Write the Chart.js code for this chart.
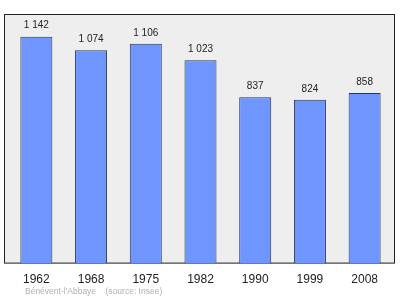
<!DOCTYPE html>
<html>
<head>
<meta charset="utf-8">
<script src="https://cdn.jsdelivr.net/npm/chart.js@4/dist/chart.umd.min.js"></script>
<style>
  html, body { margin: 0; padding: 0; background: #fff; }
  #wrap { width: 400px; height: 299px; }
</style>
</head>
<body>
<div id="wrap"><canvas id="popChart" width="400" height="299"></canvas></div>
<script>
const years = ['1962', '1968', '1975', '1982', '1990', '1999', '2008'];
const population = [1142, 1074, 1106, 1023, 837, 824, 858];
const valueLabels = ['1 142', '1 074', '1 106', '1 023', '837', '824', '858'];
const footerText = "Bénévent-l'Abbaye    (source: Insee)";

const fontFamily = '"Liberation Sans", Arial, sans-serif';

// grey box with black border behind the bars
const frame = {
  id: 'frame',
  beforeDatasetsDraw(chart) {
    const { ctx, chartArea } = chart;
    const left = chartArea.left - 5, right = chartArea.right + 3;
    ctx.save();
    ctx.fillStyle = '#eeeeee';
    ctx.fillRect(left, chartArea.top, right - left, chartArea.bottom - chartArea.top);
    ctx.strokeStyle = '#222';
    ctx.lineWidth = 1;
    ctx.strokeRect(left + 0.5, chartArea.top + 0.5, right - left - 1, chartArea.bottom - chartArea.top - 1);
    ctx.restore();
  }
};

// value labels above bars + footer line
const labels = {
  id: 'labels',
  afterDatasetsDraw(chart) {
    const { ctx } = chart;
    const meta = chart.getDatasetMeta(0);
    ctx.save();
    ctx.fillStyle = '#222';
    ctx.font = '10px ' + fontFamily;
    ctx.textAlign = 'center';
    ctx.textBaseline = 'middle';
    meta.data.forEach((bar, i) => {
      ctx.fillText(valueLabels[i], bar.x, bar.y - 11);
    });
    ctx.fillStyle = '#b0b0b0';
    ctx.font = '8.5px ' + fontFamily;
    ctx.textAlign = 'left';
    ctx.fillText(footerText, 25, 292);
    ctx.restore();
  }
};

new Chart(document.getElementById('popChart'), {
  type: 'bar',
  data: {
    labels: years,
    datasets: [{
      data: population,
      backgroundColor: '#6f96ff',
      borderColor: '#2a3550',
      borderWidth: 1,
      barPercentage: 0.585,
      categoryPercentage: 1
    }]
  },
  options: {
    responsive: false,
    animation: false,
    layout: { padding: { left: 9, right: 8, top: 14, bottom: 3 } },
    plugins: {
      legend: { display: false },
      tooltip: { enabled: false }
    },
    scales: {
      x: {
        grid: { display: false, drawTicks: false },
        border: { display: false },
        ticks: {
          padding: 9,
          color: '#222',
          font: { family: fontFamily, size: 12 }
        }
      },
      y: {
        display: false,
        min: 0,
        max: 1256
      }
    }
  },
  plugins: [frame, labels]
});
</script>
</body>
</html>
